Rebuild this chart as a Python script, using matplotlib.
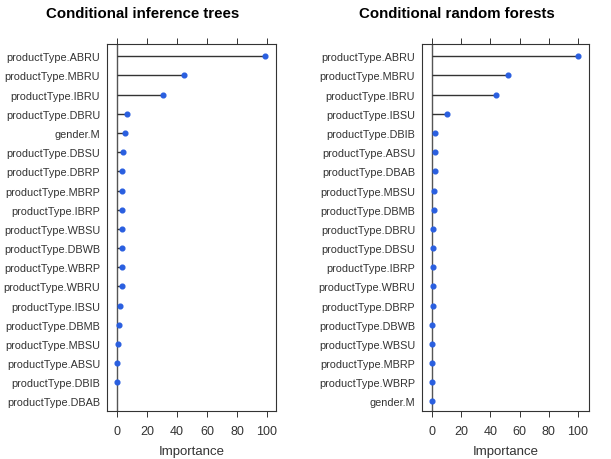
import numpy as np
import matplotlib.pyplot as plt

plt.rcParams['font.family'] = ['Liberation Sans', 'DejaVu Sans']

# conditional inference tree importances (top to bottom)
cit_labels = ["productType.ABRU", "productType.MBRU", "productType.IBRU",
              "productType.DBRU", "gender.M", "productType.DBSU",
              "productType.DBRP", "productType.MBRP", "productType.IBRP",
              "productType.WBSU", "productType.DBWB", "productType.WBRP",
              "productType.WBRU", "productType.IBSU", "productType.DBMB",
              "productType.MBSU", "productType.ABSU", "productType.DBIB",
              "productType.DBAB"]
cit_values = [98.5, 44.5, 30.5, 6.5, 5.0, 4.0, 3.5, 3.5, 3.0, 3.0, 3.0,
              3.0, 3.0, 2.0, 1.0, 0.5, 0.3, 0.0, np.nan]

# conditional random forest importances (top to bottom)
crf_labels = ["productType.ABRU", "productType.MBRU", "productType.IBRU",
              "productType.IBSU", "productType.DBIB", "productType.ABSU",
              "productType.DBAB", "productType.MBSU", "productType.DBMB",
              "productType.DBRU", "productType.DBSU", "productType.IBRP",
              "productType.WBRU", "productType.DBRP", "productType.DBWB",
              "productType.WBSU", "productType.MBRP", "productType.WBRP",
              "gender.M"]
crf_values = [100.0, 52.0, 43.5, 10.0, 2.0, 2.0, 2.0, 1.5, 1.5, 0.5, 0.5,
              0.3, 0.3, 0.3, 0.0, 0.2, 0.2, 0.2, 0.0]

xticks = [0, 20, 40, 60, 80, 100]

fig = plt.figure(figsize=(6.11, 4.6), dpi=100)
ax1 = fig.add_axes([0.1751, 0.1043, 0.2766, 0.7978])
ax2 = fig.add_axes([0.6907, 0.1043, 0.2733, 0.7978])


def lollipop(ax, labels, values, title, xlim):
    y = np.arange(len(labels))
    v = np.array(values, dtype=float)
    ax.axvline(0, color='#555555', lw=1.0, zorder=1)
    ax.hlines(y, 0, v, color='#333333', lw=1.0, zorder=2)
    ax.plot(v, y, 'o', color='#2a5fe0', ms=3.4, mec='#2a5fe0', zorder=3)
    ax.set_yticks(y)
    ax.set_yticklabels(labels, fontsize=7.8, color='#333333')
    ax.set_ylim(len(labels) - 0.5, -0.64)
    ax.set_xlim(*xlim)
    ax.set_xticks(xticks)
    ax.tick_params(axis='x', top=True, bottom=True, direction='out',
                   length=4, width=0.7, labelsize=9, colors='#333333', pad=6)
    ax.tick_params(axis='y', length=0, pad=5)
    for s in ax.spines.values():
        s.set_linewidth(0.8)
        s.set_color('#333333')
    ax.set_xlabel("Importance", fontsize=9.5, color='#333333', labelpad=6)
    ax.set_title(title, fontsize=10.8, fontweight='bold', pad=19.5, x=0.21)


lollipop(ax1, cit_labels, cit_values, "Conditional inference trees", (-6.7, 106))
lollipop(ax2, crf_labels, crf_values, "Conditional random forests", (-6.9, 107.5))

fig.savefig("out.png", dpi=100)
